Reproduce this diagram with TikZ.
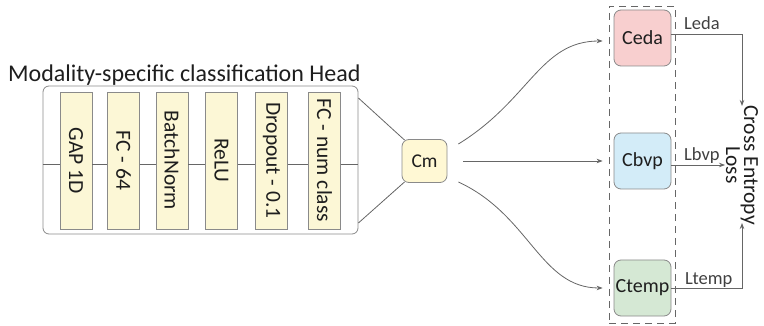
\documentclass[tikz,border=0pt]{standalone}
\usepackage{fontspec}
\setmainfont{Carlito}
\usetikzlibrary{arrows.meta,calc}
\definecolor{lineg}{HTML}{666666}
\definecolor{boxg}{HTML}{8A8A8A}
\definecolor{layerfill}{HTML}{FCF7D6}
\definecolor{cmfill}{HTML}{FFF8D4}
\definecolor{edafill}{HTML}{F8CFCF}
\definecolor{bvpfill}{HTML}{D3ECF8}
\definecolor{tempfill}{HTML}{D5E8D4}
\definecolor{txt}{HTML}{1E1E1E}
\definecolor{lbltxt}{HTML}{404040}
\tikzset{
  layerbox/.style={draw=boxg, fill=layerfill, minimum width=32pt, minimum height=137pt, inner sep=0pt, font=\fontsize{21.5}{22}\selectfont, text=txt},
  headbox/.style={draw=boxg, rounded corners=6pt, minimum width=315pt, minimum height=148pt, inner sep=0pt, line width=0.8pt},
  cbox/.style={draw=boxg, rounded corners=7pt, minimum width=57pt, minimum height=56pt, inner sep=0pt, font=\fontsize{20}{21}\selectfont, text=txt, line width=0.8pt},
  conn/.style={draw=lineg, line width=0.8pt},
  arr/.style={conn, -{Stealth[length=6pt,width=4.5pt]}},
  lbl/.style={font=\fontsize{18.5}{19}\selectfont, text=lbltxt, inner sep=1pt}
}
\begin{document}
\begin{tikzpicture}[x=1pt,y=-1pt]
\useasboundingbox (0,0) rectangle (764,326);
% title
\node[font=\fontsize{24}{26}\selectfont, text=txt, anchor=base west, inner sep=0pt] (title) at (8,82) {Modality-specific classification Head};
% head box
\node[headbox] (head) at (200.5,160) {};
\node[layerbox] (gap)  at (76,160.5)    {\rotatebox{-90}{GAP 1D}};
\node[layerbox] (fc)   at (123.5,160.5) {\rotatebox{-90}{FC - 64}};
\node[layerbox] (bn)   at (172,160.5)   {\rotatebox{-90}{BatchNorm}};
\node[layerbox] (relu) at (221.5,160.5) {\rotatebox{-90}{ReLU}};
\node[layerbox] (drop) at (271.5,160.5) {\rotatebox{-90}{Dropout - 0.1}};
\node[layerbox] (fcn)  at (324.5,160.5) {\rotatebox{-90}{FC - num class}};
\draw[conn] (head.west |- 0,164) -- (gap.west |- 0,164);
\draw[conn] (gap.east |- 0,164) -- (fc.west |- 0,164);
\draw[conn] (fc.east |- 0,164) -- (bn.west |- 0,164);
\draw[conn] (bn.east |- 0,164) -- (relu.west |- 0,164);
\draw[conn] (relu.east |- 0,164) -- (drop.west |- 0,164);
\draw[conn] (drop.east |- 0,164) -- (fcn.west |- 0,164);
\draw[conn] (fcn.east |- 0,164) -- (head.east |- 0,164);
% Cm
\node[cbox, fill=cmfill, minimum width=45pt, minimum height=43pt, font=\fontsize{19.5}{20}\selectfont] (cm) at (424.5,161) {Cm};
\draw[conn] (head.east |- 0,98) -- ($(cm.north west)+(3,1)$);
\draw[conn] (head.east |- 0,223) -- ($(cm.south west)+(3,-1)$);
% dashed group
\node[draw=lineg, dashed, dash pattern=on 7pt off 5pt, line width=0.8pt, minimum width=66pt, minimum height=317pt, inner sep=0pt] (grp) at (642,164.5) {};
\node[cbox, fill=edafill]  (ceda)  at (642.5,38)  {Ceda};
\node[cbox, fill=bvpfill]  (cbvp)  at (642.5,161) {Cbvp};
\node[cbox, fill=tempfill] (ctemp) at (642.5,288) {Ctemp};
% arrows from Cm
\draw[arr] ($(cm.east)+(11,-17)$) .. controls (530,100) and (540,41) .. ($(ceda.west)+(-11,3)$);
\draw[arr] ($(cm.east)+(16,0)$) -- ($(cbvp.west)+(-11,0)$);
\draw[arr] ($(cm.east)+(11,21)$) .. controls (530,215) and (540,288) .. ($(ctemp.west)+(-11,0)$);
% loss
\node[rotate=-90, align=center, font=\fontsize{21.5}{18}\selectfont, text=txt, inner sep=0pt] (loss) at (742,165) {Cross Entropy\\Loss};
\coordinate (lossin1) at (742,106);
\coordinate (lossin2) at (742,223);
\coordinate (lossin3) at (725,165);
\draw[arr] (ceda.east |- 0,34) -| (lossin1);
\draw[arr] (cbvp.east |- 0,165) -- (lossin3);
\draw[arr] (ctemp.east) -| (lossin2);
\node[lbl, anchor=base west] (leda) at (683,30) {Leda};
\node[lbl, anchor=base west] (lbvp) at (683,161) {Lbvp};
\node[lbl, anchor=base west] (ltemp) at (684,284) {Ltemp};
\end{tikzpicture}
\end{document}
